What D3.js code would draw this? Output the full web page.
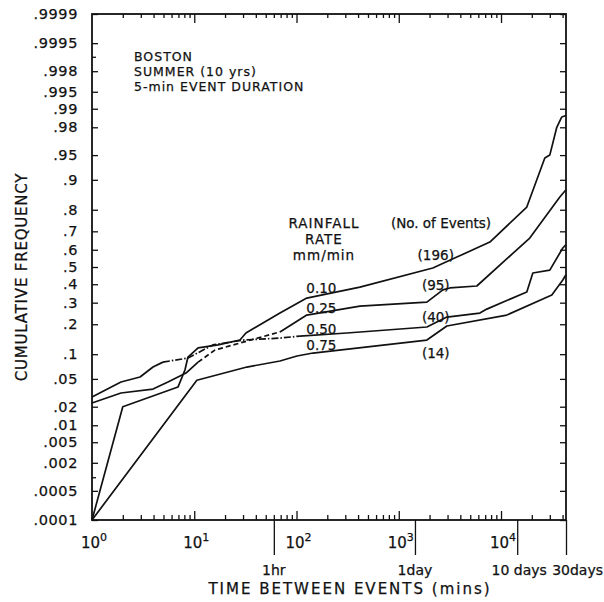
<!DOCTYPE html>
<html>
<head>
<meta charset="utf-8">
<script src="https://cdn.jsdelivr.net/npm/d3@7"></script>
<style>
  body { margin: 0; background: #fff; }
  text { font-family: "DejaVu Sans", sans-serif; fill: #111; stroke: #111; stroke-width: 0.25px; }
</style>
</head>
<body>
<div id="chart"></div>
<script>
// rainfall-rate curves (minutes, cumulative frequency)
const rates = ["0.10", "0.25", "0.50", "0.75"];
const eventCounts = ["(196)", "(95)", "(40)", "(14)"];

const min010 = [1, 2.0, 6.93, 8.11, 8.68, 10.9, 17.1, 28, 32, 68.9, 126, 417, 2153, 3700, 7780, 17870, 26800, 30000, 35100, 39300, 43000];
const freq010 = [0.0001, 0.02, 0.0388, 0.065, 0.0928, 0.117, 0.126, 0.1415, 0.166, 0.249, 0.324, 0.384, 0.494, 0.558, 0.643, 0.811, 0.9455, 0.95, 0.98, 0.9863, 0.987];

const min025 = [1, 1.92, 3.95, 5.53, 8.3, 10.9, 15.9, 28, 68.9, 126, 417, 1883, 2700, 3160, 5800, 19100, 37600, 43000];
const freq025 = [0.0228, 0.032, 0.0364, 0.0454, 0.0595, 0.081, 0.111, 0.132, 0.170, 0.240, 0.283, 0.303, 0.368, 0.379, 0.39, 0.665, 0.848, 0.871];

const min050 = [1, 1.92, 2.95, 3.95, 4.94, 8.68, 15.2, 29.9, 68.9, 108, 311, 1883, 2953, 6210, 7260, 17870, 20470, 30000, 40200, 43000];
const freq050 = [0.028, 0.0454, 0.0529, 0.0707, 0.081, 0.0904, 0.126, 0.1415, 0.148, 0.155, 0.166, 0.189, 0.231, 0.249, 0.268, 0.357, 0.465, 0.482, 0.61, 0.627];

const min075 = [1, 10.6, 32.7, 68.9, 101, 145, 1883, 2953, 11400, 31400, 40200, 43000];
const freq075 = [0.0001, 0.048, 0.0707, 0.0835, 0.0953, 0.103, 0.1415, 0.193, 0.240, 0.340, 0.424, 0.453];

// point ranges (by index) drawn broken where the curves cross
const brokenFrom = [null, 5, 4, null];
const brokenTo = [null, 8, 9, null];
const brokenDash = [null, "5,3", "7,2,1.5,2", null];

const yTicks = [0.0001, 0.0005, 0.002, 0.005, 0.01, 0.02, 0.05, 0.1, 0.2, 0.3, 0.4, 0.5, 0.6, 0.7, 0.8, 0.9, 0.95, 0.98, 0.99, 0.995, 0.998, 0.9995, 0.9999];
const yTickLabels = [".0001", ".0005", ".002", ".005", ".01", ".02", ".05", ".1", ".2", ".3", ".4", ".5", ".6", ".7", ".8", ".9", ".95", ".98", ".99", ".995", ".998", ".9995", ".9999"];
const yMinorTicks = [0.001, 0.999];

const decades = [1, 10, 100, 1000, 10000];
const decadeExp = ["0", "1", "2", "3", "4"];
const timeMarks = [60, 1440, 14400, 43200];
const timeLabels = ["1hr", "1day", "10 days", "30days"];

// inverse normal cdf (Acklam) for probability paper
function qnorm(p) {
  const a = [-3.969683028665376e+01, 2.209460984245205e+02, -2.759285104469687e+02, 1.383577518672690e+02, -3.066479806614716e+01, 2.506628277459239e+00];
  const b = [-5.447609879822406e+01, 1.615858368580409e+02, -1.556989798598866e+02, 6.680131188771972e+01, -1.328068155288572e+01];
  const c = [-7.784894002430293e-03, -3.223964580411365e-01, -2.400758277161838e+00, -2.549732539343734e+00, 4.374664141464968e+00, 2.938163982698783e+00];
  const d = [7.784695709041462e-03, 3.224671290700398e-01, 2.445134137142996e+00, 3.754408661907416e+00];
  const plow = 0.02425;
  let q, r;
  if (p < plow) {
    q = Math.sqrt(-2 * Math.log(p));
    return (((((c[0]*q+c[1])*q+c[2])*q+c[3])*q+c[4])*q+c[5]) / ((((d[0]*q+d[1])*q+d[2])*q+d[3])*q+1);
  } else if (p <= 1 - plow) {
    q = p - 0.5; r = q*q;
    return (((((a[0]*r+a[1])*r+a[2])*r+a[3])*r+a[4])*r+a[5])*q / (((((b[0]*r+b[1])*r+b[2])*r+b[3])*r+b[4])*r+1);
  } else {
    q = Math.sqrt(-2 * Math.log(1 - p));
    return -(((((c[0]*q+c[1])*q+c[2])*q+c[3])*q+c[4])*q+c[5]) / ((((d[0]*q+d[1])*q+d[2])*q+d[3])*q+1);
  }
}

const W = 604, H = 602;
const mLeft = 92, mRight = 566, mTop = 14, mBottom = 520;

const x = d3.scaleLog().domain([1, 43200]).range([mLeft, mRight]);
const yz = d3.scaleLinear().domain([qnorm(0.0001), qnorm(0.9999)]).range([mBottom, mTop]);
const y = p => yz(qnorm(p));

const svg = d3.select("#chart").append("svg")
  .attr("width", W).attr("height", H);

// minor log ticks 2..9 in each decade
let minorX = [];
decades.forEach(dd => {
  for (let k = 2; k <= 9; k++) if (dd * k <= 43200) minorX.push(dd * k);
});

function styleAxis(g) {
  g.select(".domain").remove();
  g.selectAll(".tick line").attr("stroke", "#111").attr("stroke-width", 1.3);
}

// bottom: minor + major ticks pointing inward
svg.append("g").attr("transform", `translate(0,${mBottom})`)
  .call(d3.axisBottom(x).tickValues(minorX).tickSizeInner(-5).tickSizeOuter(0).tickFormat(""))
  .call(styleAxis);
svg.append("g").attr("transform", `translate(0,${mBottom})`)
  .call(d3.axisBottom(x).tickValues(decades.slice(1)).tickSizeInner(-9).tickSizeOuter(0).tickFormat(""))
  .call(styleAxis);
// top
svg.append("g").attr("transform", `translate(0,${mTop})`)
  .call(d3.axisTop(x).tickValues(minorX).tickSizeInner(-4).tickSizeOuter(0).tickFormat(""))
  .call(styleAxis);
svg.append("g").attr("transform", `translate(0,${mTop})`)
  .call(d3.axisTop(x).tickValues(decades.slice(1)).tickSizeInner(-9).tickSizeOuter(0).tickFormat(""))
  .call(styleAxis);

// time marks hanging below the axis
svg.append("g").attr("transform", `translate(0,${mBottom})`)
  .call(d3.axisBottom(x).tickValues(timeMarks).tickSizeInner(35).tickSizeOuter(0).tickFormat(""))
  .call(styleAxis);

// left axis with probability labels
svg.append("g").attr("transform", `translate(${mLeft},0)`)
  .call(d3.axisLeft(yz).tickValues(yTicks.map(qnorm)).tickSizeInner(-6).tickSizeOuter(0).tickPadding(14)
    .tickFormat((d, i) => yTickLabels[i]))
  .call(styleAxis)
  .call(g => g.selectAll("text").attr("font-size", 14.5).attr("letter-spacing", 0.6)
    .attr("font-family", "DejaVu Sans").attr("fill", "#111"));
svg.append("g").attr("transform", `translate(${mLeft},0)`)
  .call(d3.axisLeft(yz).tickValues(yMinorTicks.map(qnorm)).tickSizeInner(-4).tickSizeOuter(0).tickFormat(""))
  .call(styleAxis);
// right axis, ticks only
svg.append("g").attr("transform", `translate(${mRight},0)`)
  .call(d3.axisRight(yz).tickValues(yTicks.map(qnorm)).tickSizeInner(-6).tickSizeOuter(0).tickFormat(""))
  .call(styleAxis);

// frame
svg.append("rect")
  .attr("x", mLeft).attr("y", mTop)
  .attr("width", mRight - mLeft).attr("height", mBottom - mTop)
  .attr("fill", "none").attr("stroke", "#111").attr("stroke-width", 1.8);

// decade labels 10^n
const decLab = svg.append("g");
decades.forEach((dd, i) => {
  const t = decLab.append("text")
    .attr("x", x(dd) + 2).attr("y", 548)
    .attr("text-anchor", "middle").attr("font-size", 15);
  t.append("tspan").text("10");
  t.append("tspan").attr("dy", -7).attr("font-size", 11).text(decadeExp[i]);
});

// time labels
timeLabels.forEach((lab, i) => {
  let anchor = "middle", xx = x(timeMarks[i]);
  if (i === 2) xx += 2;
  if (i === 3) { anchor = "end"; xx = 603; }
  svg.append("text")
    .attr("x", xx).attr("y", 575)
    .attr("text-anchor", anchor).attr("font-size", 14)
    .text(lab);
});

// axis titles
svg.append("text")
  .attr("x", 350).attr("y", 594)
  .attr("text-anchor", "middle").attr("font-size", 15).attr("letter-spacing", 2)
  .text("TIME BETWEEN EVENTS (mins)");
svg.append("text")
  .attr("transform", `translate(27,${(mTop + mBottom) / 2 + 10}) rotate(-90)`)
  .attr("text-anchor", "middle").attr("font-size", 15).attr("letter-spacing", 0.8)
  .text("CUMULATIVE FREQUENCY");

// curves
const seriesMin = [min010, min025, min050, min075];
const seriesFreq = [freq010, freq025, freq050, freq075];
const line = d3.line().x(d => x(d[0])).y(d => y(d[1]));

seriesMin.forEach((mins, s) => {
  const pts = mins.map((m, i) => [m, seriesFreq[s][i]]);
  const parts = [];
  if (brokenFrom[s] === null) {
    parts.push({ pts: pts, dash: null });
  } else {
    parts.push({ pts: pts.slice(0, brokenFrom[s] + 1), dash: null });
    parts.push({ pts: pts.slice(brokenFrom[s], brokenTo[s] + 1), dash: brokenDash[s] });
    parts.push({ pts: pts.slice(brokenTo[s]), dash: null });
  }
  parts.forEach(pt => {
    svg.append("path")
      .attr("d", line(pt.pts))
      .attr("fill", "none")
      .attr("stroke", "#111")
      .attr("stroke-width", 1.7)
      .attr("stroke-linejoin", "round")
      .attr("stroke-dasharray", pt.dash);
  });
});

// header note
const note = ["BOSTON", "SUMMER (10 yrs)", "5-min EVENT DURATION"];
note.forEach((t, i) => {
  svg.append("text")
    .attr("x", 134).attr("y", 61 + i * 15)
    .attr("font-size", 12.5).attr("letter-spacing", 1)
    .text(t);
});

// legend headings
["RAINFALL", "RATE", "mm/min"].forEach((t, i) => {
  svg.append("text")
    .attr("x", 324).attr("y", 228 + i * 16)
    .attr("text-anchor", "middle").attr("font-size", 13.5).attr("letter-spacing", 1)
    .text(t);
});
svg.append("text")
  .attr("x", 441).attr("y", 228)
  .attr("text-anchor", "middle").attr("font-size", 13.5)
  .text("(No. of Events)");

// rate labels sitting on their curves, counts beside
const rateLabelY = [293, 313, 334, 350];
const countLabelY = [260, 290, 322, 358];
rates.forEach((r, i) => {
  svg.append("text")
    .attr("x", x(175)).attr("y", rateLabelY[i])
    .attr("text-anchor", "middle").attr("font-size", 13.5)
    .text(r);
  svg.append("text")
    .attr("x", x(2300)).attr("y", countLabelY[i])
    .attr("text-anchor", "middle").attr("font-size", 13.5)
    .text(eventCounts[i]);
});
</script>
</body>
</html>
